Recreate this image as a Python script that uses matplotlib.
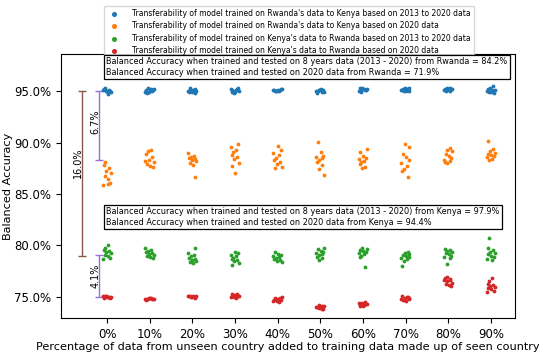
import numpy as np
import matplotlib.pyplot as plt

# percentage of unseen-country data added
pcts = [0, 10, 20, 30, 40, 50, 60, 70, 80, 90]
tick_labels = [str(p) + "%" for p in pcts]

# balanced accuracy (%) for each run
rw_to_ke_all = [
    [95.2, 95.1, 95.0, 94.9, 95.2, 94.8, 95.0, 95.1, 94.7, 95.3],
    [95.3, 95.1, 95.0, 94.9, 95.2, 94.8, 95.0, 95.1, 94.9, 95.2],
    [95.1, 95.0, 94.9, 95.2, 94.9, 95.0, 95.3, 95.1, 94.8, 95.0],
    [95.2, 95.1, 95.0, 94.9, 95.2, 94.8, 95.0, 95.1, 94.9, 95.3],
    [95.2, 95.1, 95.0, 95.0, 95.1, 95.1, 95.0, 95.2, 95.0, 95.1],
    [95.2, 95.1, 95.0, 94.9, 95.1, 94.8, 95.0, 95.1, 94.9, 95.0],
    [95.3, 95.2, 95.1, 95.0, 95.2, 94.9, 95.0, 95.1, 95.3, 95.2],
    [95.3, 95.2, 95.0, 95.0, 95.1, 95.2, 95.0, 95.1, 95.2, 95.3],
    [95.3, 95.2, 95.0, 95.1, 95.2, 95.1, 95.0, 95.1, 95.2, 95.3],
    [95.5, 95.3, 95.1, 95.0, 94.9, 94.8, 95.0, 95.1, 94.9, 95.2],
]
rw_to_ke_2020 = [
    [88.1, 87.8, 87.5, 87.2, 87.0, 86.8, 86.5, 86.1, 85.9, 86.0],
    [89.3, 89.2, 88.9, 88.6, 88.3, 88.1, 87.9, 87.7, 87.6, 88.2],
    [89.0, 88.7, 88.6, 88.5, 88.4, 88.3, 88.2, 88.0, 87.8, 86.7],
    [89.9, 89.6, 89.3, 89.1, 88.8, 88.6, 88.4, 88.0, 87.7, 87.0],
    [89.7, 89.3, 89.0, 88.8, 88.5, 88.3, 88.1, 87.9, 87.6, 87.5],
    [90.1, 89.1, 88.7, 88.6, 88.5, 88.3, 88.1, 87.8, 87.4, 86.9],
    [89.4, 89.1, 88.7, 88.5, 88.4, 88.2, 88.1, 87.9, 87.6, 87.5],
    [89.9, 89.6, 88.9, 88.6, 88.3, 88.0, 87.7, 87.4, 87.2, 86.7],
    [89.5, 89.3, 89.2, 88.9, 88.7, 88.5, 88.3, 88.2, 88.0, 88.1],
    [90.2, 89.4, 89.2, 89.0, 88.9, 88.8, 88.7, 88.6, 88.4, 88.3],
]
ke_to_rw_all = [
    [80.0, 79.8, 79.6, 79.5, 79.4, 79.3, 79.1, 79.0, 78.8, 78.7],
    [79.8, 79.6, 79.5, 79.4, 79.3, 79.2, 79.1, 79.0, 78.9, 78.8],
    [79.8, 79.3, 79.1, 79.0, 78.8, 78.7, 78.6, 78.5, 78.4, 78.3],
    [79.4, 79.3, 79.1, 79.0, 78.8, 78.7, 78.6, 78.5, 78.3, 78.1],
    [79.4, 79.2, 79.1, 79.0, 78.9, 78.8, 78.7, 78.6, 78.5, 78.4],
    [79.8, 79.7, 79.5, 79.4, 79.3, 79.2, 79.1, 78.9, 78.8, 78.6],
    [79.8, 79.7, 79.6, 79.5, 79.4, 79.3, 79.2, 79.0, 78.9, 77.9],
    [79.4, 79.3, 79.2, 79.1, 79.0, 78.9, 78.8, 78.7, 78.5, 78.0],
    [79.7, 79.6, 79.5, 79.4, 79.3, 79.2, 79.0, 78.9, 78.8, 78.2],
    [80.7, 79.8, 79.6, 79.4, 79.3, 79.2, 79.0, 78.9, 78.7, 78.6],
]
ke_to_rw_2020 = [
    [75.1, 75.0, 75.0, 74.9, 75.0, 75.1, 74.95, 75.05, 75.0, 74.9],
    [74.8, 74.75, 74.85, 74.8, 74.7, 74.8, 74.9, 74.75, 74.8, 74.85],
    [75.1, 75.0, 75.05, 74.95, 75.0, 75.1, 74.9, 75.0, 75.05, 75.1],
    [75.3, 75.2, 75.1, 75.0, 74.9, 75.2, 75.1, 75.3, 75.0, 75.1],
    [75.0, 74.9, 74.8, 74.7, 74.6, 74.5, 74.8, 74.7, 74.9, 74.6],
    [74.2, 74.1, 74.0, 73.9, 73.8, 74.0, 74.1, 73.9, 74.0, 73.8],
    [74.5, 74.4, 74.3, 74.2, 74.1, 74.3, 74.4, 74.2, 74.3, 74.1],
    [75.1, 75.0, 74.9, 74.8, 74.7, 74.6, 74.9, 74.8, 75.0, 74.7],
    [76.9, 76.8, 76.6, 76.5, 76.4, 76.3, 76.2, 76.1, 76.6, 76.7],
    [76.8, 76.5, 76.3, 76.2, 76.1, 76.0, 75.9, 75.8, 75.6, 75.5],
]

labels = ["Transferability of model trained on Rwanda's data to Kenya based on 2013 to 2020 data",
          "Transferability of model trained on Rwanda's data to Kenya based on 2020 data",
          "Transferability of model trained on Kenya's data to Rwanda based on 2013 to 2020 data",
          "Transferability of model trained on Kenya's data to Rwanda based on 2020 data"]
colors = ["tab:blue", "tab:orange", "tab:green", "tab:red"]

# gaps shown with the bars on the left
top_val = 95.0
orange_min = 88.3
green_min = 79.1
red_val = 75.0
brown_low = 79.0

# fixed strip jitter pattern
jit = np.array([-0.08, 0.05, -0.02, 0.09, -0.06, 0.01, 0.07, -0.1, 0.03, -0.04])

fig = plt.figure(figsize=(5.5, 3.54), dpi=100)
ax = fig.add_axes([0.111, 0.102, 0.825, 0.745])

series = [rw_to_ke_all, rw_to_ke_2020, ke_to_rw_all, ke_to_rw_2020]
for s, (data, c, lab) in enumerate(zip(series, colors, labels)):
    for i, vals in enumerate(data):
        xs = i + np.roll(jit, i + s)
        ax.scatter(xs, vals, s=3, color=c, label=lab if i == 0 else None, zorder=3)

# difference bars
ax.errorbar(-0.6, (top_val + brown_low) / 2, yerr=(top_val - brown_low) / 2,
            color="tab:brown", capsize=3, lw=1)
ax.text(-0.68, 88.0, "%.1f%%" % (top_val - brown_low), rotation=90,
        ha="center", va="center", fontsize=7)
ax.errorbar(-0.2, (top_val + orange_min) / 2, yerr=(top_val - orange_min) / 2,
            color="mediumpurple", capsize=3, lw=1)
ax.text(-0.28, 92.0, "%.1f%%" % (top_val - orange_min), rotation=90,
        ha="center", va="center", fontsize=7)
ax.errorbar(-0.2, (green_min + red_val) / 2, yerr=(green_min - red_val) / 2,
            color="mediumpurple", capsize=3, lw=1)
ax.text(-0.28, 77.05, "%.1f%%" % (green_min - red_val), rotation=90,
        ha="center", va="center", fontsize=7)

box = dict(boxstyle="square,pad=0.3", fc="white", ec="black", lw=0.9)
ax.text(0.099, 0.988,
        "Balanced Accuracy when trained and tested on 8 years data (2013 - 2020) from Rwanda = 84.2%\n"
        "Balanced Accuracy when trained and tested on 2020 data from Rwanda = 71.9%",
        transform=ax.transAxes, ha="left", va="top", fontsize=5.85, bbox=box, zorder=6)
ax.text(0.099, 0.42,
        "Balanced Accuracy when trained and tested on 8 years data (2013 - 2020) from Kenya = 97.9%\n"
        "Balanced Accuracy when trained and tested on 2020 data from Kenya = 94.4%",
        transform=ax.transAxes, ha="left", va="top", fontsize=5.85, bbox=box, zorder=6)

ax.set_xlim(-1.08, 9.56)
ax.set_ylim(72.96, 98.6)
ax.set_xticks(range(len(pcts)))
ax.set_xticklabels(tick_labels, fontsize=8.5)
yt = [75, 80, 85, 90, 95]
ax.set_yticks(yt)
ax.set_yticklabels(["%.1f%%" % v for v in yt], fontsize=8.5)
ax.set_xlabel("Percentage of data from unseen country added to training data made up of seen country",
              fontsize=8.1, labelpad=1)
ax.set_ylabel("Balanced Accuracy", fontsize=8.1, labelpad=1)

leg = ax.legend(loc="upper center", bbox_to_anchor=(0.525, 0.995), bbox_transform=fig.transFigure,
                fontsize=5.5, markerscale=1.5, handletextpad=1.3, labelspacing=0.45)
leg.set_zorder(5)

fig.savefig("out.png", dpi=100)
